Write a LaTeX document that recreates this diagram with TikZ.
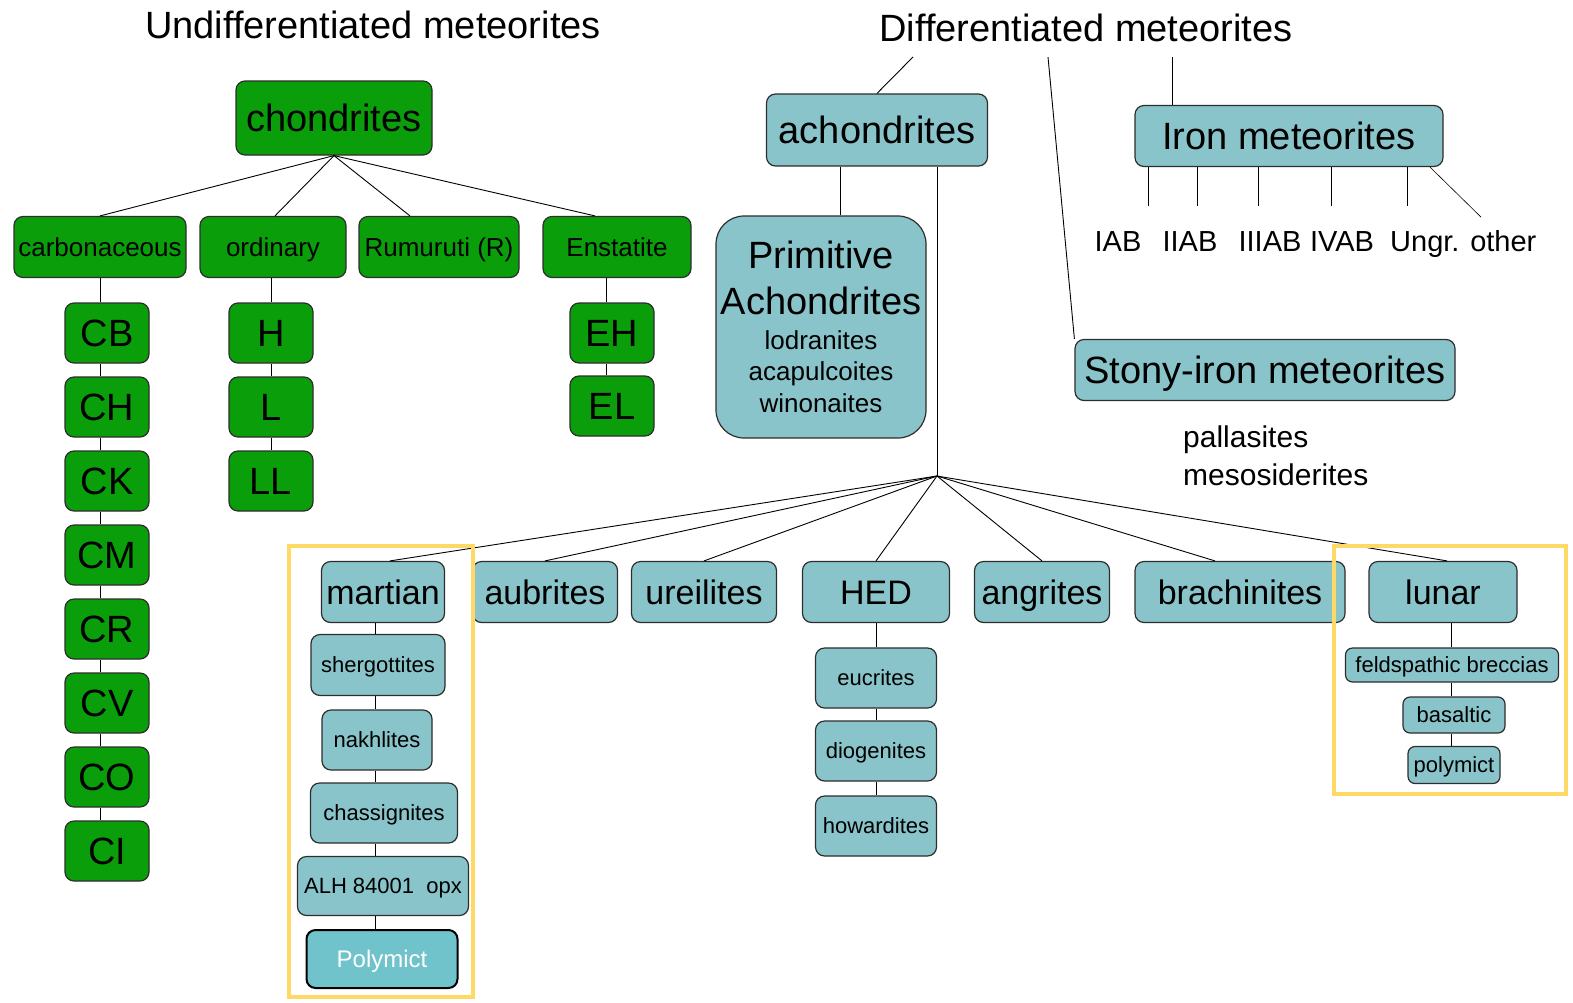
\documentclass[tikz,border=0pt]{standalone}
\usepackage{fontspec}
\setmainfont{Liberation Sans}
\usetikzlibrary{calc}
\definecolor{grn}{RGB}{11,158,11}
\definecolor{tl}{RGB}{137,196,202}
\definecolor{tld}{RGB}{112,194,203}
\definecolor{ylw}{RGB}{255,217,102}
\definecolor{bdr}{RGB}{45,45,45}
\newcommand{\fsXL}{\fontsize{38}{46}\selectfont}
\newcommand{\fsL}{\fontsize{34}{40}\selectfont}
\newcommand{\fsM}{\fontsize{29}{36}\selectfont}
\newcommand{\fsP}{\fontsize{30}{36}\selectfont}
\newcommand{\fsN}{\fontsize{26}{31}\selectfont}
\newcommand{\fsS}{\fontsize{22}{26}\selectfont}
\begin{document}
\begin{tikzpicture}[x=1pt,y=-1pt,
 box/.style={draw=bdr, line width=1.2pt, rounded corners=9pt, inner sep=0pt, align=center},
 gbox/.style={box, fill=grn},
 tbox/.style={box, fill=tl},
 sz/.style 2 args={minimum width=#1pt, minimum height=#2pt},
 tXL/.style={font=\fsXL, text height=27.4pt, text depth=0pt},
 tL/.style={font=\fsL, text height=24.5pt, text depth=0pt},
 tM/.style={font=\fsM, text height=20.9pt, text depth=0pt},
 tP/.style={font=\fsP, text height=21.6pt, text depth=0pt},
 tN/.style={font=\fsN, text height=18.7pt, text depth=0pt},
 tS/.style={font=\fsS, text height=15.8pt, text depth=0pt},
 conn/.style={draw=black, line width=0.9pt},
 lbl/.style={inner sep=0pt},
 frame/.style={draw=ylw, line width=4pt}]
\useasboundingbox (0,0) rectangle (1573,1002);

% titles
\node[lbl, tXL] (undiff) at (373,25) {Undifferentiated meteorites};
\node[lbl, tXL] (diff) at (1086,28) {Differentiated meteorites};

% chondrites
\node[gbox, sz={196}{74}, tXL] (chon) at (334,118) {chondrites};
\node[gbox, sz={172}{61}, tN] (carb) at (100,247) {carbonaceous};
\node[gbox, sz={146}{61}, tN] (ord) at (273,247) {ordinary};
\node[gbox, sz={160}{61}, tN] (rum) at (439,247) {Rumuruti (R)};
\node[gbox, sz={148}{61}, tN] (ens) at (617,247) {Enstatite};

\foreach \n/\y in {CB/333,CH/407,CK/481,CM/555,CR/629,CV/703,CO/777,CI/851}
  \node[gbox, sz={84}{60}, tXL] (\n) at (107,\y) {\n};
\node[gbox, sz={84}{60}, tXL] (H) at (271,333) {H};
\node[gbox, sz={84}{60}, tXL] (L) at (271,407) {L};
\node[gbox, sz={84}{60}, tXL] (LL) at (271,481) {LL};
\node[gbox, sz={84}{60}, tXL] (EH) at (612,333) {EH};
\node[gbox, sz={84}{60}, tXL] (EL) at (612,406) {EL};

\draw[conn] (chon.south) -- (carb.north);
\draw[conn] (chon.south) -- ($(ord.north)+(2,0)$);
\draw[conn] (chon.south) -- ($(rum.north)+(-29,0)$);
\draw[conn] (chon.south) -- ($(ens.north)+(-22,0)$);
\draw[conn] (carb.south) -- (carb.south |- CB.north);
\foreach \a/\b in {CB/CH,CH/CK,CK/CM,CM/CR,CR/CV,CV/CO,CO/CI}
  \draw[conn] (\a.south -| carb.south) -- (\b.north -| carb.south);
\draw[conn] (ord.south -| H.north) -- (H.north);
\draw[conn] (H.south) -- (L.north);
\draw[conn] (L.south) -- (LL.north);
\draw[conn] ($(ens.south)+(-11,0)$) -- ($(EH.north)+(-6,0)$);
\draw[conn] ($(EH.south)+(-6,0)$) -- ($(EL.north)+(-6,0)$);

% differentiated
\node[tbox, sz={221}{72}, tXL] (ach) at (877,130) {achondrites};
\node[tbox, sz={210}{222}, rounded corners=28pt, font=\fsXL] (prim) at (821,327)
  {Primitive\\Achondrites\\[-11pt]{\fsN lodranites}\\[-15pt]{\fsN acapulcoites}\\[-14pt]{\fsN winonaites}};
\node[tbox, sz={308}{61}, tXL] (iron) at (1289,136) {Iron meteorites};
\node[tbox, sz={380}{61}, tXL] (stony) at (1265,370) {Stony-iron meteorites};

\coordinate (d1) at (913,57);
\coordinate (d2) at (1172,57);
\coordinate (d3) at (1048,57);
\coordinate (hub) at (937,476);

\draw[conn] (d1) -- (ach.north);
\draw[conn] (d2) -- (d2 |- iron.north);
\draw[conn] (d3) -- (stony.north west);
\draw[conn] ($(ach.south)+(-37,0)$) -- ($(prim.north)+(19,0)$);
\draw[conn] ($(ach.south)+(60,0)$) -- (hub);

% iron groups
\node[lbl, tM] (iab) at (1118,241) {IAB};
\node[lbl, tM] (iiab) at (1190,241) {IIAB};
\node[lbl, tM] (iiiab) at (1270,241) {IIIAB};
\node[lbl, tM] (ivab) at (1342,241) {IVAB};
\node[lbl, tM, anchor=west] (ungr) at (1390,241) {Ungr. other};
\foreach \dx in {-141,-92,-31,42,118}
  \draw[conn] ($(iron.south)+(\dx,0)$) -- ++(0,39);
\draw[conn, line width=0.6pt] ($(iron.south)+(141,0)$) -- ++(51,50);

% stony-iron members
\node[lbl, tP, anchor=west] (pall) at (1183,437) {pallasites};
\node[lbl, tP, anchor=west] (meso) at (1183,475) {mesosiderites};

% bottom row
\node[tbox, sz={123}{61}, tL] (mar) at (383,592) {martian};
\node[tbox, sz={145}{61}, tL] (aub) at (545,592) {aubrites};
\node[tbox, sz={145}{61}, tL] (ure) at (704,592) {ureilites};
\node[tbox, sz={147}{61}, tL] (hed) at (876,592) {HED};
\node[tbox, sz={135}{61}, tL] (ang) at (1042,592) {angrites};
\node[tbox, sz={210}{61}, tL] (bra) at (1240,592) {brachinites};
\node[tbox, sz={148}{61}, tL] (lun) at (1443,592) {lunar};

\draw[conn] (hub) -- ($(mar.north)+(7,0)$);
\draw[conn] (hub) -- (aub.north);
\draw[conn] (hub) -- (ure.north);
\draw[conn] (hub) -- (hed.north);
\draw[conn] (hub) -- (ang.north);
\draw[conn] (hub) -- ($(bra.north)+(-25,0)$);
\draw[conn] (hub) -- ($(lun.north)+(4,0)$);

% martian column
\node[tbox, sz={134}{61}, tS] (sher) at (378,665) {shergottites};
\node[tbox, sz={110}{60}, tS] (nak) at (377,740) {nakhlites};
\node[tbox, sz={147}{60}, tS] (cha) at (384,813) {chassignites};
\node[tbox, sz={171}{59}, tS] (alh) at (383,886) {ALH 84001\ \ opx};
\node[box, fill=tld, draw=black, line width=2pt, sz={151}{58}, text=white,
      font=\fontsize{24}{28}\selectfont, text height=17.3pt, text depth=0pt] (poly) at (382,959) {Polymict};
\coordinate (mx) at (375,0);
\foreach \a/\b in {mar/sher,sher/nak,nak/cha,cha/alh,alh/poly}
  \draw[conn] (\a.south -| mx) -- (\b.north -| mx);

% HED column
\node[tbox, sz={121}{60}, tS] (euc) at (876,678) {eucrites};
\node[tbox, sz={121}{60}, tS] (dio) at (876,751) {diogenites};
\node[tbox, sz={121}{60}, tS] (how) at (876,826) {howardites};
\foreach \a/\b in {hed/euc,euc/dio,dio/how}
  \draw[conn] (\a.south) -- (\b.north);

% lunar column
\node[tbox, sz={213}{34}, tS, rounded corners=7pt] (feld) at (1452,665) {feldspathic breccias};
\node[tbox, sz={102}{36}, tS, rounded corners=7pt] (bas) at (1454,715) {basaltic};
\node[tbox, sz={92}{37}, tS, rounded corners=7pt] (lpoly) at (1454,765) {polymict};
\coordinate (lx) at (1451,0);
\foreach \a/\b in {lun/feld,feld/bas,bas/lpoly}
  \draw[conn] (\a.south -| lx) -- (\b.north -| lx);

% highlight frames
\draw[frame] (289,546) rectangle (473,997);
\draw[frame] (1334,546) rectangle (1566,794);
\end{tikzpicture}
\end{document}
